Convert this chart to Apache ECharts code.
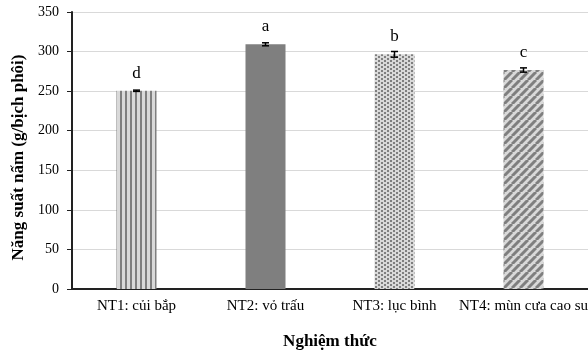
<!DOCTYPE html>
<html>
<head>
<meta charset="utf-8">
<script src="https://cdn.jsdelivr.net/npm/echarts@6/dist/echarts.min.js"></script>
<style>
  html, body { margin: 0; padding: 0; background: #fff; }
  #chart { width: 588px; height: 352px; }
</style>
</head>
<body>
<div id="chart"></div>
<script>
const categories = ['NT1: củi bắp', 'NT2: vỏ trấu', 'NT3: lục bình', 'NT4: mùn cưa cao su']
const yields = [250.5, 309.2, 296.5, 276.7]
const errors = [0.8, 1.9, 3.6, 2.7]
const letters = ['d', 'a', 'b', 'c']
const yTicks = [0, 50, 100, 150, 200, 250, 300, 350]

const DARK = '#7f7f7f'
const LIGHT = '#d9d9d9'

function makeCanvas(w, h) {
    let c = document.createElement('canvas')
    c.width = w
    c.height = h
    return c
}

// vertical stripes
function stripes() {
    let c = makeCanvas(5, 5)
    let g = c.getContext('2d')
    g.fillStyle = LIGHT
    g.fillRect(0, 0, 5, 5)
    g.fillStyle = DARK
    g.fillRect(0, 0, 2, 5)
    return c
}

// small blocks
function dots() {
    let c = makeCanvas(6, 4)
    let g = c.getContext('2d')
    g.fillStyle = LIGHT
    g.fillRect(0, 0, 6, 4)
    g.fillStyle = DARK
    g.fillRect(0, 0, 2, 2)
    g.fillRect(3, 2, 2, 2)
    return c
}

// diagonal stripes /
function diagonal() {
    let n = 8
    let c = makeCanvas(n, n)
    let g = c.getContext('2d')
    g.fillStyle = LIGHT
    g.fillRect(0, 0, n, n)
    g.strokeStyle = DARK
    g.lineWidth = 3
    for (let k = -1; k <= 1; k++) {
        g.beginPath()
        g.moveTo(k * n, n)
        g.lineTo(k * n + n, 0)
        g.stroke()
    }
    return c
}

const fills = [
    { image: stripes(), repeat: 'repeat' },
    DARK,
    { image: dots(), repeat: 'repeat' },
    { image: diagonal(), repeat: 'repeat' }
]

let chart = echarts.init(document.getElementById('chart'))
const font = '"Liberation Serif", "Times New Roman", serif'

let option = {
    animation: false,
    textStyle: { fontFamily: font },
    grid: { left: 72, right: 0, top: 12, bottom: 63, outerBoundsMode: 'none', containLabel: false },
    xAxis: {
        type: 'category',
        data: categories,
        name: 'Nghiệm thức',
        nameLocation: 'middle',
        nameGap: 44,
        nameTextStyle: { fontFamily: font, fontSize: 17, fontWeight: 'bold', color: '#000' },
        axisLine: { lineStyle: { color: '#222', width: 2 } },
        axisTick: { alignWithLabel: true, length: 3, lineStyle: { color: '#222' } },
        axisLabel: { fontFamily: font, fontSize: 15, color: '#000', margin: 10, interval: 0 }
    },
    yAxis: {
        type: 'value',
        min: 0,
        max: 350,
        interval: 50,
        name: 'Năng suất nấm (g/bịch phôi)',
        nameLocation: 'middle',
        nameGap: 45,
        nameTextStyle: {
            fontFamily: font, fontSize: 17, fontWeight: 'bold', color: '#000',
            padding: [0, 14, 0, 0]
        },
        axisLine: { show: true, lineStyle: { color: '#222', width: 2 } },
        axisTick: { show: true, length: 5, lineStyle: { color: '#222' } },
        axisLabel: {
            fontFamily: font, fontSize: 14, color: '#000', margin: 13,
            formatter: v => yTicks.includes(v) ? String(v) : ''
        },
        splitLine: { lineStyle: { color: '#d9d9d9', width: 1 } }
    },
    series: [
        {
            type: 'bar',
            barWidth: 40,
            data: yields.map((v, i) => ({
                value: v,
                itemStyle: { color: fills[i] },
                label: { formatter: letters[i] }
            })),
            label: {
                show: true,
                position: 'top',
                distance: 9,
                fontFamily: font,
                fontSize: 17,
                color: '#000'
            }
        },
        {
            type: 'custom',
            z: 10,
            data: yields.map((v, i) => [i, v - errors[i], v + errors[i]]),
            renderItem: function (params, api) {
                let x = api.coord([api.value(0), 0])[0]
                let lo = api.coord([api.value(0), api.value(1)])[1]
                let hi = api.coord([api.value(0), api.value(2)])[1]
                let w = 3.5
                let st = { stroke: '#000', lineWidth: 1.5 }
                return {
                    type: 'group',
                    children: [
                        { type: 'line', shape: { x1: x, y1: lo, x2: x, y2: hi }, style: st },
                        { type: 'line', shape: { x1: x - w, y1: lo, x2: x + w, y2: lo }, style: st },
                        { type: 'line', shape: { x1: x - w, y1: hi, x2: x + w, y2: hi }, style: st }
                    ]
                }
            }
        }
    ]
}

chart.setOption(option)
</script>
</body>
</html>
